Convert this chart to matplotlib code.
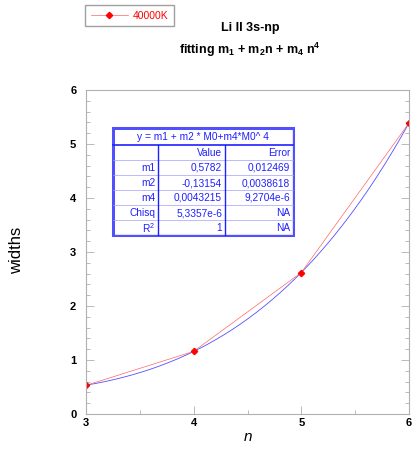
import numpy as np
import matplotlib.pyplot as plt
from matplotlib.ticker import MultipleLocator

plt.rcParams['font.family'] = ['Liberation Sans', 'DejaVu Sans']
plt.rcParams['mathtext.fontset'] = 'custom'
plt.rcParams['mathtext.rm'] = 'Liberation Sans'
plt.rcParams['mathtext.bf'] = 'Liberation Sans:bold'

n = [3, 4, 5, 6]
widths = [0.53, 1.16, 2.62, 5.39]
m1, m2, m4 = 0.5782, -0.13154, 0.0043215

table_rows = [
    ["", "Value", "Error"],
    ["m1", "0,5782", "0,012469"],
    ["m2", "-0,13154", "0,0038618"],
    ["m4", "0,0043215", "9,2704e-6"],
    ["Chisq", "5,3357e-6", "NA"],
    ["R$^2$", "1", "NA"],
]

fig = plt.figure(figsize=(4.15, 4.51), dpi=100)
ax = fig.add_axes([86/415, 1-414/451, (409-86)/415, (414-90)/451])

# fit curve
nn = np.linspace(3, 6, 200)
ax.plot(nn, m1 + m2*nn + m4*nn**4, color="#5050ff", lw=0.6)
line, = ax.plot(n, widths, color=(1, 0.4, 0.4), lw=0.5, marker="D", ms=3.2,
                mec="red", mfc="red")

ax.set_xlim(3, 6)
ax.set_ylim(0, 6)
ax.xaxis.set_major_locator(MultipleLocator(1))
ax.xaxis.set_minor_locator(MultipleLocator(0.5))
ax.yaxis.set_major_locator(MultipleLocator(1))
ax.yaxis.set_minor_locator(MultipleLocator(0.2))
ax.tick_params(which="both", direction="in", color="#b0b0b0", left=True, right=True, top=False)
ax.tick_params(which="major", length=6, width=0.6, labelsize=8)
ax.tick_params(which="minor", length=3, width=0.6)
ax.tick_params(axis="y", pad=7)
ax.tick_params(axis="x", pad=3)
for lab in ax.get_xticklabels() + ax.get_yticklabels():
    lab.set_fontweight("bold")
for s in ax.spines.values():
    s.set_color("#b0b0b0")
    s.set_linewidth(0.8)

ax.set_xlabel("n", fontsize=11, style="italic", labelpad=1)
ax.set_ylabel("widths", fontsize=12, va="center")
ax.yaxis.set_label_coords(-0.214, 0.506)

# legend box
leg = fig.legend([line], ["40000K"], loc="upper left", bbox_to_anchor=(85/415, 1-5/451),
                 fontsize=7.5, frameon=True, fancybox=False, handlelength=3.6,
                 borderpad=0.55, labelcolor="red", handletextpad=0.4, borderaxespad=0)
leg.get_frame().set_edgecolor("#888888")
leg.get_frame().set_linewidth(1.0)

fig.text(250/415, 1-28/451, "Li II 3s-np", ha="center", va="center", fontsize=9, fontweight="bold")
fig.text(250/415, 1-50/451, r"fitting m$_\mathbf{1}$ + m$_\mathbf{2}$n + m$_\mathbf{4}$ n$^\mathbf{4}$",
         ha="center", va="center", fontsize=9, fontweight="bold")

# parameter table
tab_l, tab_r, tab_t, tab_b = 113, 293, 128, 235
col_x = [113, 158, 225, 293]
header_h = 17
row_h = (tab_b - tab_t - header_h) / 6
blue = "#2020ff"

tax = fig.add_axes([0, 0, 1, 1], facecolor="none")
tax.set_xlim(0, 415)
tax.set_ylim(451, 0)
tax.axis("off")
tax.add_patch(plt.Rectangle((tab_l, tab_t), tab_r - tab_l, tab_b - tab_t, fill=True,
                            facecolor="white", edgecolor="#5050ff", lw=2.2))
tax.add_patch(plt.Rectangle((tab_l + 1.5, tab_t + 1.5), tab_r - tab_l - 3, tab_b - tab_t - 3,
                            fill=False, edgecolor="white", lw=0.6))
tax.text((tab_l + tab_r) / 2, tab_t + header_h / 2 + 0.5, "y = m1 + m2 * M0+m4*M0^ 4",
         ha="center", va="center", fontsize=7.3, color=blue)
tax.plot([tab_l, tab_r], [tab_t + header_h, tab_t + header_h], color=blue, lw=1.2)
for i, row in enumerate(table_rows):
    y0 = tab_t + header_h + i * row_h
    if i > 0:
        tax.plot([tab_l, tab_r], [y0, y0], color="#a0a0ff", lw=0.5)
    for j, cell in enumerate(row):
        tax.text(col_x[j + 1] - 3, y0 + row_h / 2 + 0.5, cell, ha="right", va="center",
                 fontsize=7.3, color=blue)
for cx in col_x[1:3]:
    tax.plot([cx, cx], [tab_t + header_h, tab_b], color=blue, lw=1.0)

fig.savefig("out.png", dpi=100)
